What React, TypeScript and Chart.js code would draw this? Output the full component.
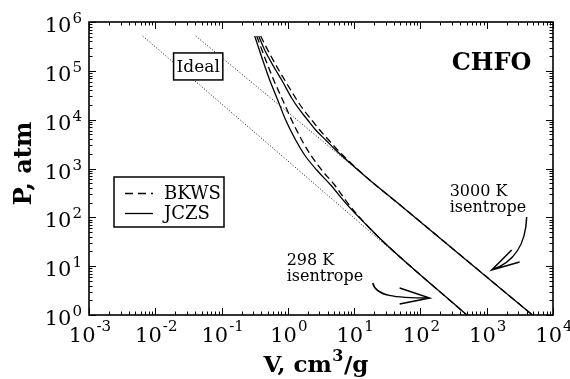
import React, { useEffect, useRef } from "react";
import { Chart, registerables } from "chart.js";

Chart.register(...registerables);

// ---- data: specific volume V (cm^3/g) and pressure P (atm) ----
const V_298_JCZS = [0.316, 0.417, 0.532, 0.703, 0.927, 1.31, 1.79, 2.72, 4.43, 7.45, 14.9, 28.9, 500];
const P_298_JCZS = [5.17e5, 1.67e5, 6.49e4, 2.53e4, 9.84e3, 3.83e3, 1.89e3, 931, 459, 196, 72.9, 29.8, 1];
const V_298_BKWS = [0.339, 0.463, 0.611, 0.835, 1.14, 1.62, 2.21, 3.24, 5.08, 8.0, 14.9, 28.9, 500];
const P_298_BKWS = [5.17e5, 1.67e5, 6.49e4, 2.53e4, 9.84e3, 3.83e3, 1.89e3, 931, 459, 196, 72.9, 29.8, 1];
const V_3000_JCZS = [0.363, 0.447, 0.655, 0.807, 1.14, 1.51, 1.99, 2.63, 3.72, 5.27, 7.71, 17.1, 45.4, 4900];
const P_3000_JCZS = [5.17e5, 2.67e5, 1.04e5, 6.49e4, 2.78e4, 1.58e4, 9.84e3, 6.14e3, 3.83e3, 2.39e3, 1.49e3, 581, 196, 1];
const V_3000_BKWS = [0.389, 0.497, 0.728, 0.895, 1.31, 1.73, 2.29, 3.02, 4.13, 5.65, 8.0, 17.1, 45.4, 4900];
const P_3000_BKWS = [5.17e5, 2.67e5, 1.04e5, 6.49e4, 2.78e4, 1.58e4, 9.84e3, 6.14e3, 3.83e3, 2.39e3, 1.49e3, 581, 196, 1];
const V_IDEAL_298 = [0.00646, 500];
const P_IDEAL_298 = [5.17e5, 1];
const V_IDEAL_3000 = [0.0408, 4900];
const P_IDEAL_3000 = [5.17e5, 1];

const X_TICK_EXPONENTS = [-3, -2, -1, 0, 1, 2, 3, 4];
const Y_TICK_EXPONENTS = [0, 1, 2, 3, 4, 5, 6];

const LEGEND_LABELS = ["BKWS", "JCZS"];
const TITLE_X = ["V, cm", "3", "/g"];
const TITLE_Y = "P, atm";
const PANEL_LABEL = "CHFO";
const IDEAL_LABEL = "Ideal";
const LABEL_3000 = ["3000 K", "isentrope"];
const LABEL_298 = ["298 K", "isentrope"];

// annotation anchors in data coordinates [V, P]
const IDEAL_LABEL_AT = [0.0444, 1.23e5];
const PANEL_LABEL_AT = [296, 1.04e5];
const LABEL_3000_AT = [276, 274];
const LABEL_298_AT = [0.96, 10.6];
const ARROW_298 = { start: [19.1, 4.52], c1: [21.1, 2.45], c2: [40.9, 2.23], tip: [138, 2.23], b1: [48.6, 3.57], b2: [48.6, 1.68] };
const ARROW_3000 = { start: [4010, 101.6], c1: [3870, 27.1], c2: [2640, 12.2], tip: [1190, 8.34], b1: [2380, 21.4], b2: [3140, 12.2] };

const SERIF = '"DejaVu Serif", serif';

function pts(v: number[], p: number[]) {
  return v.map((x, i) => ({ x, y: p[i] }));
}

function drawPow(ctx: CanvasRenderingContext2D, exp: number, x: number, y: number, mode: "center" | "right", isX: boolean) {
  const base = "10";
  const sup = String(exp);
  ctx.font = `21px ${SERIF}`;
  const wb = ctx.measureText(base).width;
  ctx.font = `15px ${SERIF}`;
  const ws = ctx.measureText(sup).width;
  const total = wb + ws + 1;
  const x0 = mode === "center" ? x - total / 2 + 1 : x - total;
  ctx.textAlign = "left";
  ctx.textBaseline = "alphabetic";
  ctx.font = `21px ${SERIF}`;
  ctx.fillText(base, x0, y);
  ctx.font = `15px ${SERIF}`;
  ctx.fillText(sup, x0 + wb + 1, y - (isX ? 11 : 9));
}

const decor = {
  id: "decor",
  afterDatasetsDraw(chart: any) {
    const { ctx, chartArea: a, scales } = chart;
    const xs = scales.x;
    const ys = scales.y;
    const X = (v: number) => xs.getPixelForValue(v);
    const Y = (v: number) => ys.getPixelForValue(v);
    ctx.save();
    ctx.fillStyle = "#000";
    ctx.strokeStyle = "#000";

    // ticks (inward, all four sides)
    ctx.lineWidth = 1;
    ctx.beginPath();
    for (let i = 0; i < X_TICK_EXPONENTS.length; i++) {
      const e = X_TICK_EXPONENTS[i];
      for (let k = 1; k <= 9; k++) {
        if (i === X_TICK_EXPONENTS.length - 1 && k > 1) break;
        const px = Math.round(X(k * Math.pow(10, e))) + 0.5;
        const len = k === 1 ? 7 : 3.5;
        ctx.moveTo(px, a.bottom);
        ctx.lineTo(px, a.bottom - len);
        ctx.moveTo(px, a.top);
        ctx.lineTo(px, a.top + len);
      }
    }
    for (let i = 0; i < Y_TICK_EXPONENTS.length; i++) {
      const e = Y_TICK_EXPONENTS[i];
      for (let k = 1; k <= 9; k++) {
        if (i === Y_TICK_EXPONENTS.length - 1 && k > 1) break;
        const py = Math.round(Y(k * Math.pow(10, e))) + 0.5;
        const len = k === 1 ? 7 : 3.5;
        ctx.moveTo(a.left, py);
        ctx.lineTo(a.left + len, py);
        ctx.moveTo(a.right, py);
        ctx.lineTo(a.right - len, py);
      }
    }
    ctx.stroke();

    // frame
    ctx.lineWidth = 1.6;
    ctx.strokeRect(a.left, a.top, a.right - a.left, a.bottom - a.top);

    // tick labels
    for (const e of X_TICK_EXPONENTS) drawPow(ctx, e, X(Math.pow(10, e)), a.bottom + 27, "center", true);
    for (const e of Y_TICK_EXPONENTS) drawPow(ctx, e, a.left - 7, Y(Math.pow(10, e)) + 10, "right", false);

    // x axis title with superscript
    {
      ctx.textBaseline = "alphabetic";
      ctx.textAlign = "left";
      const big = `bold 23px ${SERIF}`;
      const small = `bold 16px ${SERIF}`;
      ctx.font = big;
      const w0 = ctx.measureText(TITLE_X[0]).width;
      const w2 = ctx.measureText(TITLE_X[2]).width;
      ctx.font = small;
      const w1 = ctx.measureText(TITLE_X[1]).width;
      const total = w0 + w1 + w2 + 1;
      const x0 = (a.left + a.right) / 2 - 5 - total / 2;
      const by = a.bottom + 57;
      ctx.font = big;
      ctx.fillText(TITLE_X[0], x0, by);
      ctx.font = small;
      ctx.fillText(TITLE_X[1], x0 + w0 + 0.5, by - 11);
      ctx.font = big;
      ctx.fillText(TITLE_X[2], x0 + w0 + w1 + 1, by);
    }
    // y axis title
    ctx.font = `bold 24px ${SERIF}`;
    ctx.textAlign = "center";
    ctx.save();
    ctx.translate(31, (a.top + a.bottom) / 2 - 5);
    ctx.rotate(-Math.PI / 2);
    ctx.fillText(TITLE_Y, 0, 0);
    ctx.restore();

    // panel label
    ctx.font = `bold 24px ${SERIF}`;
    ctx.textAlign = "left";
    ctx.fillText(PANEL_LABEL, X(PANEL_LABEL_AT[0]), Y(PANEL_LABEL_AT[1]));

    // Ideal box
    {
      const cx = X(IDEAL_LABEL_AT[0]);
      const cy = Y(IDEAL_LABEL_AT[1]);
      ctx.font = `17px ${SERIF}`;
      const w = ctx.measureText(IDEAL_LABEL).width + 6;
      const h = 27;
      ctx.fillStyle = "#fff";
      ctx.fillRect(cx - w / 2, cy - h / 2, w, h);
      ctx.fillStyle = "#000";
      ctx.lineWidth = 1.5;
      ctx.strokeRect(cx - w / 2, cy - h / 2, w, h);
      ctx.textAlign = "center";
      ctx.fillText(IDEAL_LABEL, cx, cy + 6);
    }

    // legend
    {
      const lx = a.left + 25;
      const ly = a.top + 155;
      const lw = 110;
      const lh = 50;
      ctx.fillStyle = "#fff";
      ctx.fillRect(lx, ly, lw, lh);
      ctx.fillStyle = "#000";
      ctx.lineWidth = 1.5;
      ctx.strokeRect(lx, ly, lw, lh);
      ctx.lineWidth = 1.3;
      ctx.setLineDash([8, 5]);
      ctx.beginPath();
      ctx.moveTo(lx + 11, ly + 16.5);
      ctx.lineTo(lx + 39, ly + 16.5);
      ctx.stroke();
      ctx.setLineDash([]);
      ctx.beginPath();
      ctx.moveTo(lx + 11, ly + 36.5);
      ctx.lineTo(lx + 39, ly + 36.5);
      ctx.stroke();
      ctx.font = `18px ${SERIF}`;
      ctx.textAlign = "left";
      ctx.fillText(LEGEND_LABELS[0], lx + 50, ly + 22);
      ctx.fillText(LEGEND_LABELS[1], lx + 50, ly + 42);
    }

    // isentrope labels
    ctx.font = `16px ${SERIF}`;
    ctx.textAlign = "left";
    LABEL_3000.forEach((t, i) => ctx.fillText(t, X(LABEL_3000_AT[0]), Y(LABEL_3000_AT[1]) + i * 16));
    LABEL_298.forEach((t, i) => ctx.fillText(t, X(LABEL_298_AT[0]), Y(LABEL_298_AT[1]) + i * 16));

    // arrows
    const arrow = (ar: any) => {
      const P = (q: number[]) => [X(q[0]), Y(q[1])];
      const s = P(ar.start), c1 = P(ar.c1), c2 = P(ar.c2), t = P(ar.tip), b1 = P(ar.b1), b2 = P(ar.b2);
      ctx.lineWidth = 1.5;
      ctx.beginPath();
      ctx.moveTo(s[0], s[1]);
      ctx.bezierCurveTo(c1[0], c1[1], c2[0], c2[1], t[0], t[1]);
      ctx.moveTo(b1[0], b1[1]);
      ctx.lineTo(t[0], t[1]);
      ctx.lineTo(b2[0], b2[1]);
      ctx.stroke();
    };
    arrow(ARROW_298);
    arrow(ARROW_3000);

    ctx.restore();
  },
};

export default function App() {
  const ref = useRef<HTMLCanvasElement | null>(null);
  useEffect(() => {
    if (!ref.current) return;
    const solid = { borderColor: "#000", borderWidth: 1.3, pointRadius: 0, showLine: true, fill: false, cubicInterpolationMode: "monotone" as const };
    const dashed = { ...solid, borderDash: [7, 4] };
    const dotted = { borderColor: "#111", borderWidth: 1, pointRadius: 0, showLine: true, fill: false, borderDash: [1, 2] };
    const chart = new Chart(ref.current, {
      type: "scatter",
      data: {
        datasets: [
          { label: "Ideal 298 K", data: pts(V_IDEAL_298, P_IDEAL_298), ...dotted },
          { label: "Ideal 3000 K", data: pts(V_IDEAL_3000, P_IDEAL_3000), ...dotted },
          { label: "JCZS 298 K", data: pts(V_298_JCZS, P_298_JCZS), ...solid },
          { label: "BKWS 298 K", data: pts(V_298_BKWS, P_298_BKWS), ...dashed },
          { label: "JCZS 3000 K", data: pts(V_3000_JCZS, P_3000_JCZS), ...solid },
          { label: "BKWS 3000 K", data: pts(V_3000_BKWS, P_3000_BKWS), ...dashed },
        ] as any,
      },
      options: {
        animation: false,
        responsive: false,
        maintainAspectRatio: false,
        layout: { padding: { left: 0, right: 17, top: 22, bottom: 0 } },
        plugins: { legend: { display: false }, tooltip: { enabled: false } },
        scales: {
          x: {
            type: "logarithmic",
            min: 1e-3,
            max: 1e4,
            ticks: { display: false },
            grid: { display: false },
            border: { display: false },
            afterFit: (s: any) => { s.height = 64; },
          },
          y: {
            type: "logarithmic",
            min: 1,
            max: 1e6,
            ticks: { display: false },
            grid: { display: false },
            border: { display: false },
            afterFit: (s: any) => { s.width = 89; },
          },
        },
      } as any,
      plugins: [decor],
    });
    return () => chart.destroy();
  }, []);
  return (
    <div style={{ position: "absolute", left: 0, top: 0, width: 570, height: 379, background: "#fff" }}>
      <canvas ref={ref} width={570} height={379} />
    </div>
  );
}
